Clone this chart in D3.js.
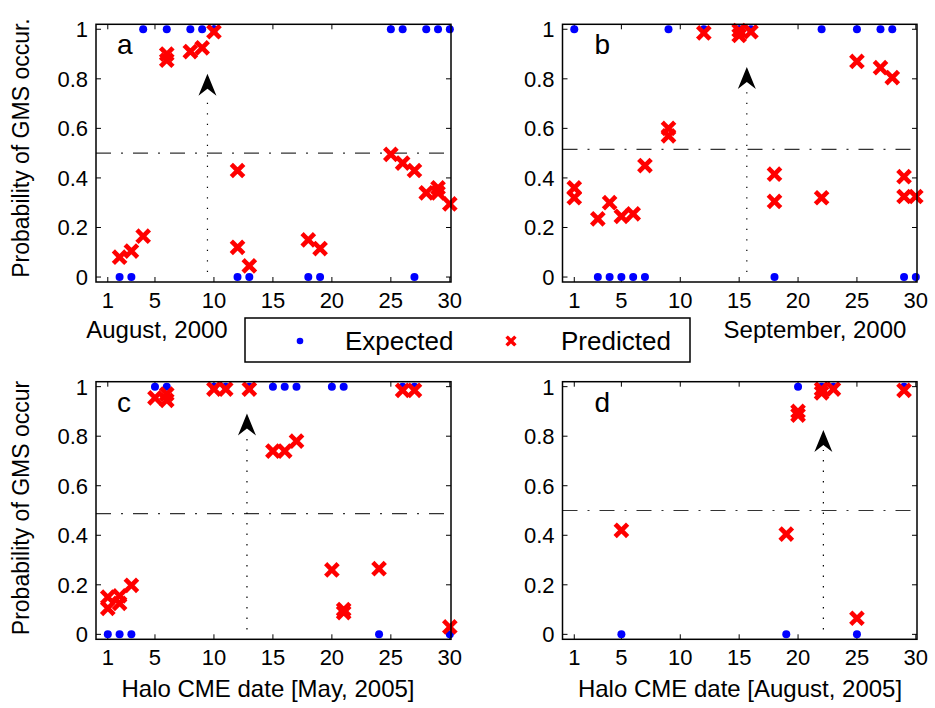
<!DOCTYPE html>
<html>
<head>
<meta charset="utf-8">
<script src="https://cdn.jsdelivr.net/npm/d3@7"></script>
<style>
  html, body { margin: 0; padding: 0; background: #fff; }
  svg text { font-family: "Liberation Sans", Arial, Helvetica, sans-serif; fill: #000; }
</style>
</head>
<body>
<svg id="chart" width="935" height="708"></svg>
<script>
// ---- data: days of halo CMEs, expected (0/1) and predicted GMS probability ----
const expDaysA  = [2, 3, 4, 6, 8, 9, 10, 12, 13, 18, 19, 25, 26, 27, 28, 29, 30];
const expValsA  = [0, 0, 1, 1, 1, 1, 1, 0, 0, 0, 0, 1, 1, 0, 1, 1, 1];
const predDaysA = [2, 3, 4, 6, 6, 8, 9, 10, 12, 12, 13, 18, 19, 25, 26, 27, 28, 29, 29, 30];
const predValsA = [0.08, 0.105, 0.165, 0.875, 0.9, 0.91, 0.925, 0.99, 0.43, 0.12, 0.045, 0.15, 0.115,
                   0.495, 0.46, 0.43, 0.34, 0.34, 0.36, 0.295];

const expDaysB  = [1, 3, 4, 5, 6, 7, 9, 12, 15, 16, 18, 22, 25, 27, 28, 29, 30];
const expValsB  = [1, 0, 0, 0, 0, 0, 1, 1, 1, 1, 0, 1, 1, 1, 1, 0, 0];
const predDaysB = [1, 1, 3, 4, 5, 6, 7, 9, 9, 12, 15, 15, 16, 18, 18, 22, 25, 27, 28, 29, 29, 30];
const predValsB = [0.36, 0.32, 0.235, 0.3, 0.245, 0.255, 0.45, 0.6, 0.57, 0.985, 0.995, 0.975, 0.99,
                   0.415, 0.305, 0.32, 0.87, 0.845, 0.805, 0.405, 0.325, 0.325];

const expDaysC  = [1, 2, 3, 5, 6, 10, 11, 13, 15, 16, 17, 20, 21, 24, 26, 27, 30];
const expValsC  = [0, 0, 0, 1, 1, 1, 1, 1, 1, 1, 1, 1, 1, 0, 1, 1, 0];
const predDaysC = [1, 1, 2, 2, 3, 5, 6, 6, 10, 11, 13, 15, 16, 17, 20, 21, 21, 24, 26, 27, 30];
const predValsC = [0.15, 0.105, 0.155, 0.125, 0.198, 0.955, 0.945, 0.97, 0.99, 0.99, 0.99, 0.74, 0.74,
                   0.78, 0.26, 0.1, 0.088, 0.265, 0.985, 0.985, 0.03];

const expDaysD  = [5, 19, 20, 22, 23, 25, 29];
const expValsD  = [0, 0, 1, 1, 1, 0, 1];
const predDaysD = [5, 19, 20, 20, 22, 22, 23, 25, 29];
const predValsD = [0.42, 0.405, 0.9, 0.885, 0.99, 0.975, 0.99, 0.065, 0.985];

const thresholds = [0.5, 0.515, 0.487, 0.5];       // decision threshold per panel
const arrowDays  = [9.45, 15.65, 12.8, 22.15];     // marked event day per panel
const arrowTips  = [0.82, 0.848, 0.892, 0.825];    // arrow tip height per panel

const panelLetters = ["a", "b", "c", "d"];
const xTickValues  = [1, 5, 10, 15, 20, 25, 30];
const yTickValues  = [0, 0.2, 0.4, 0.6, 0.8, 1];
const xTitles      = ["August, 2000", "September, 2000", "Halo CME date [May, 2005]", "Halo CME date [August, 2005]"];
const yTitles      = ["Probability of GMS occur.", "Probability of GMS occur"];
const legendLabels = ["Expected", "Predicted"];

// ---- layout ----
const svg = d3.select("#chart");
const BLUE = "#0000ff", RED = "#ff0000";
const boxes = [
  { x0: 96,    x1: 451, y0: 24.3,  y1: 282 },
  { x0: 562.5, x1: 917, y0: 24.3,  y1: 282 },
  { x0: 96,    x1: 451, y0: 381.7, y1: 639.3 },
  { x0: 562.5, x1: 917, y0: 381.7, y1: 639.3 }
];
const panels = [
  { ed: expDaysA, ev: expValsA, pd: predDaysA, pv: predValsA },
  { ed: expDaysB, ev: expValsB, pd: predDaysB, pv: predValsB },
  { ed: expDaysC, ev: expValsC, pd: predDaysC, pv: predValsC },
  { ed: expDaysD, ev: expValsD, pd: predDaysD, pv: predValsD }
];

const crossPath = s => `M${-s},${-s}L${s},${s}M${-s},${s}L${s},${-s}`;

panels.forEach((p, i) => {
  const b = boxes[i];
  const x = d3.scaleLinear().domain([0, 30.1]).range([b.x0, b.x1]);
  const y = d3.scaleLinear().domain([-0.02, 1.02]).range([b.y1, b.y0]);
  const g = svg.append("g");

  // ticks pointing inward on all four sides
  const tl = 5;
  const tickLayer = g.append("g").attr("stroke", "#000").attr("stroke-width", 1);
  xTickValues.forEach(t => {
    tickLayer.append("line").attr("x1", x(t)).attr("x2", x(t)).attr("y1", b.y1).attr("y2", b.y1 - tl);
    tickLayer.append("line").attr("x1", x(t)).attr("x2", x(t)).attr("y1", b.y0).attr("y2", b.y0 + tl);
  });
  yTickValues.forEach(t => {
    tickLayer.append("line").attr("x1", b.x0).attr("x2", b.x0 + tl).attr("y1", y(t)).attr("y2", y(t));
    tickLayer.append("line").attr("x1", b.x1).attr("x2", b.x1 - tl).attr("y1", y(t)).attr("y2", y(t));
  });

  // tick labels
  g.selectAll(".xl").data(xTickValues).join("text")
    .attr("x", d => x(d)).attr("y", b.y1 + 26)
    .attr("text-anchor", "middle").attr("font-size", 22).text(d => d);
  g.selectAll(".yl").data(yTickValues).join("text")
    .attr("x", b.x0 - 8).attr("y", d => y(d)).attr("dy", "0.36em")
    .attr("text-anchor", "end").attr("font-size", 22).text(d => d3.format("~g")(d));

  // threshold dash-dot line
  g.append("line")
    .attr("x1", b.x0).attr("x2", b.x1)
    .attr("y1", y(thresholds[i])).attr("y2", y(thresholds[i]))
    .attr("stroke", "#333").attr("stroke-width", 1.2)
    .attr("stroke-dasharray", "15,10,2,10");

  // dotted marker line and arrowhead
  const ax = x(arrowDays[i]), tipY = y(arrowTips[i]);
  g.append("line")
    .attr("x1", ax).attr("x2", ax)
    .attr("y1", y(0.02)).attr("y2", tipY + 20)
    .attr("stroke", "#000").attr("stroke-width", 1.2)
    .attr("stroke-dasharray", "1.3,9.2");
  g.append("path")
    .attr("d", `M${ax},${tipY}L${ax + 9},${tipY + 22}L${ax},${tipY + 15}L${ax - 9},${tipY + 22}Z`)
    .attr("fill", "#000");

  // expected (dots) then predicted (crosses)
  g.selectAll(".dot").data(p.ed.map((d, k) => [d, p.ev[k]])).join("circle")
    .attr("cx", d => x(d[0])).attr("cy", d => y(d[1])).attr("r", 4).attr("fill", BLUE);
  g.selectAll(".crs").data(p.pd.map((d, k) => [d, p.pv[k]])).join("path")
    .attr("transform", d => `translate(${x(d[0])},${y(d[1])})`)
    .attr("d", crossPath(4.6))
    .attr("stroke", RED).attr("stroke-width", 4.6).attr("stroke-linecap", "square").attr("fill", "none");

  // frame
  g.append("rect")
    .attr("x", b.x0).attr("y", b.y0).attr("width", b.x1 - b.x0).attr("height", b.y1 - b.y0)
    .attr("fill", "none").attr("stroke", "#000").attr("stroke-width", 1.5);

  // panel letter
  g.append("text")
    .attr("x", b.x0 + (i % 2 === 0 ? 21 : 32)).attr("y", b.y0 + 30)
    .attr("font-size", 28).text(panelLetters[i]);
});

// x-axis titles
svg.append("text").attr("x", 157).attr("y", 338).attr("text-anchor", "middle").attr("font-size", 24).text(xTitles[0]);
svg.append("text").attr("x", 815).attr("y", 338).attr("text-anchor", "middle").attr("font-size", 24).text(xTitles[1]);
svg.append("text").attr("x", 268).attr("y", 697).attr("text-anchor", "middle").attr("font-size", 24).text(xTitles[2]);
svg.append("text").attr("x", 740).attr("y", 697).attr("text-anchor", "middle").attr("font-size", 24).text(xTitles[3]);

// y-axis titles
[[148, yTitles[0]], [508, yTitles[1]]].forEach(([cy, label]) => {
  svg.append("text")
    .attr("transform", `translate(29,${cy}) rotate(-90)`)
    .attr("text-anchor", "middle").attr("font-size", 23).text(label);
});

// legend
const lg = svg.append("g");
lg.append("rect").attr("x", 245).attr("y", 318).attr("width", 445).attr("height", 44)
  .attr("fill", "#fff").attr("stroke", "#000").attr("stroke-width", 1.5);
lg.append("circle").attr("cx", 300).attr("cy", 341).attr("r", 3.3).attr("fill", BLUE);
lg.append("text").attr("x", 345).attr("y", 350).attr("font-size", 26).text(legendLabels[0]);
lg.append("path").attr("transform", "translate(511,341)").attr("d", crossPath(3.2))
  .attr("stroke", RED).attr("stroke-width", 3.4).attr("stroke-linecap", "square");
lg.append("text").attr("x", 561).attr("y", 350).attr("font-size", 26).text(legendLabels[1]);
</script>
</body>
</html>
